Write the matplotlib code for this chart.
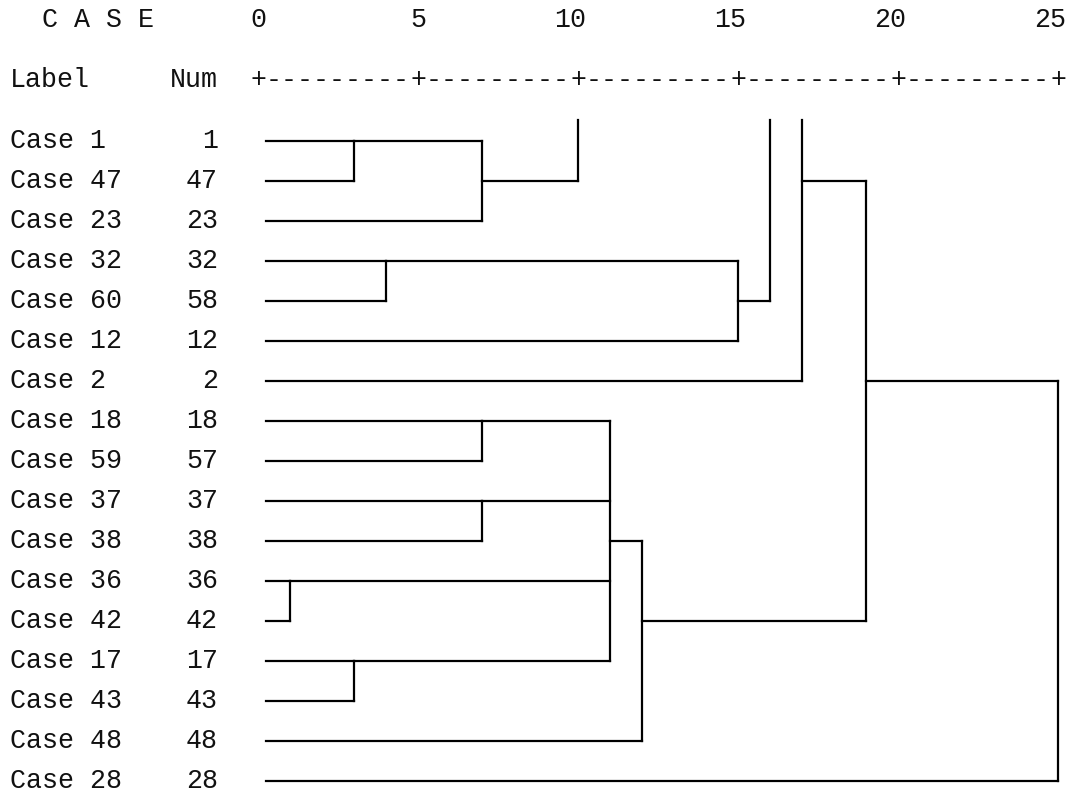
import matplotlib
matplotlib.use("Agg")
import matplotlib.pyplot as plt

# cases in the order they appear in the dendrogram
labels = ["Case 1", "Case 47", "Case 23", "Case 32", "Case 60", "Case 12", "Case 2",
          "Case 18", "Case 59", "Case 37", "Case 38", "Case 36", "Case 42", "Case 17",
          "Case 43", "Case 48", "Case 28"]
nums = [1, 47, 23, 32, 58, 12, 2, 18, 57, 37, 38, 36, 42, 17, 43, 48, 28]

scale_ticks = [0, 5, 10, 15, 20, 25]

# (name, rescaled distance, children, row where the joined line goes on)
# children are row numbers or earlier merges, "up" = part cut off above the first row
merges = [
    ("a", 3, [0, 1], 0),
    ("b", 7, ["a", 2], 1),
    ("c", 4, [3, 4], 3),
    ("d", 15, ["c", 5], 4),
    ("t1", 10, ["up", "b"], None),
    ("t2", 16, ["up", "d"], None),
    ("t3", 17, ["up", 6], 1),
    ("e", 7, [7, 8], 7),
    ("f", 7, [9, 10], 9),
    ("g", 1, [11, 12], 11),
    ("h", 3, [13, 14], 13),
    ("i", 11, ["e", "f", "g", "h"], 10),
    ("j", 12, ["i", 15], 12),
    ("k", 19, ["t3", "j"], 6),
    ("l", 25, ["k", 16], 6),
]

W, H = 1070, 798
X0, DX = 258, 32      # pixel of distance 0, pixels per distance unit
Y0, DY = 141, 40      # pixel of first row, pixels per row

fig = plt.figure(figsize=(W / 100, H / 100), dpi=100)
ax = fig.add_axes([0, 0, 1, 1])
ax.set_xlim(-X0 / DX, (W - X0) / DX)
ax.set_ylim((H - Y0) / DY, -Y0 / DY)
ax.axis("off")

font = dict(family=["Liberation Mono", "DejaVu Sans Mono"], fontsize=19.2, color="#111111")
line = dict(color="black", lw=1.6, solid_capstyle="projecting")

# header
ax.text(-7.75, -2.85, "  C A S E", ha="left", va="baseline", **font)
for t in scale_ticks:
    ax.text(t + 0.25, -2.85, str(t), ha="right", va="baseline", **font)
ax.text(-7.75, -1.35, "Label", ha="left", va="baseline", **font)
ax.text(-1.25, -1.35, "Num", ha="right", va="baseline", **font)
for t in scale_ticks:
    ax.text(t, -1.35, "+", ha="center", va="baseline", **font)
for a, b in zip(scale_ticks[:-1], scale_ticks[1:]):
    ax.text((a + b) / 2, -1.35, "-" * 9, ha="center", va="baseline", **font)

# case rows
for i, (lab, n) in enumerate(zip(labels, nums)):
    ax.text(-7.75, i + 0.18, lab, ha="left", va="baseline", **font)
    ax.text(-1.25, i + 0.18, str(n), ha="right", va="baseline", **font)

# tree
pos = {i: (0.25, i) for i in range(len(labels))}
pos["up"] = (None, -0.52)
for name, h, kids, out in merges:
    rows = []
    for k in kids:
        x0, r = pos[k]
        rows.append(r)
        if x0 is not None:
            ax.plot([x0, h], [r, r], **line)
    ax.plot([h, h], [min(rows), max(rows)], **line)
    pos[name] = (h, out)

fig.savefig("out.png", dpi=100, facecolor="white")
